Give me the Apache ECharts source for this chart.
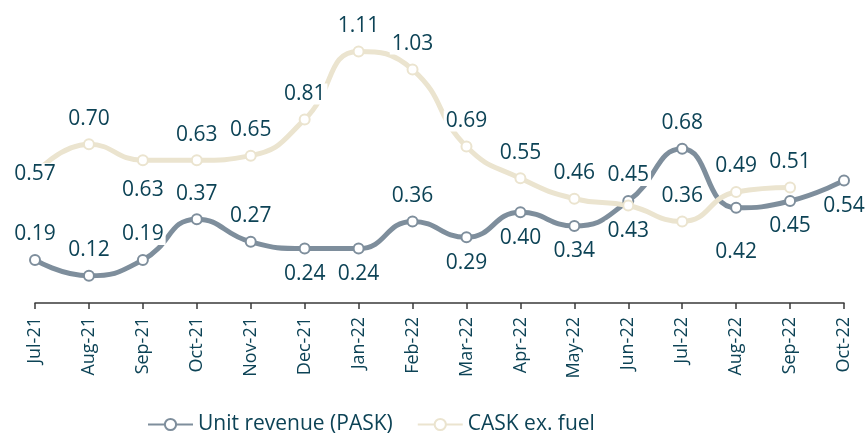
<!DOCTYPE html>
<html>
<head>
<meta charset="utf-8">
<title>PASK vs CASK ex. fuel</title>
<script src="https://cdn.jsdelivr.net/npm/echarts@6/dist/echarts.min.js"></script>
<style>
  html, body { margin: 0; padding: 0; background: #fff; }
  #main { width: 866px; height: 433px; }
</style>
</head>
<body>
<div id="main"></div>
<script>
// months on the x axis
const months = ['Jul-21', 'Aug-21', 'Sep-21', 'Oct-21', 'Nov-21', 'Dec-21', 'Jan-22', 'Feb-22',
  'Mar-22', 'Apr-22', 'May-22', 'Jun-22', 'Jul-22', 'Aug-22', 'Sep-22', 'Oct-22']

// Unit revenue (PASK)
const paskValues = [0.19, 0.12, 0.19, 0.37, 0.27, 0.24, 0.24, 0.36, 0.29, 0.40, 0.34, 0.45, 0.68, 0.42, 0.45, 0.54]
// CASK ex. fuel (no value for Oct-22)
const caskValues = [0.57, 0.70, 0.63, 0.63, 0.65, 0.81, 1.11, 1.03, 0.69, 0.55, 0.46, 0.43, 0.36, 0.49, 0.51, null]

// where each data label sits relative to its point
const paskLabelPos = ['top', 'top', 'top', 'top', 'top', 'bottom', 'bottom', 'top',
  'bottom', 'bottom', 'bottom', 'top', 'top', 'bottom', 'bottom', 'bottom']
const caskLabelPos = ['inside', 'top', 'bottom', 'top', 'top', 'top', 'top', 'top',
  'top', 'top', 'top', 'bottom', 'top', 'top', 'top', 'top']

const textColor = '#0d4356'
const fontFamily = '"Open Sans", sans-serif'

const chart = echarts.init(document.getElementById('main'))

function buildData(values, positions, extra) {
  return values.map((v, i) => {
    if (v === null) return '-'
    const dist = (extra && extra[i]) || 9
    return {
      value: v,
      label: { position: positions[i], distance: dist }
    }
  })
}

const labelStyle = {
  show: true,
  formatter: p => p.value.toFixed(2),
  color: textColor,
  fontSize: 21,
  fontFamily: fontFamily,
  backgroundColor: '#fff',
  padding: [0, 2]
}

chart.setOption({
  animation: false,
  grid: {
    left: 35,
    right: 22,
    top: 31,
    bottom: 130
  },
  legend: {
    left: 142,
    top: 409,
    itemWidth: 45,
    itemHeight: 14,
    itemGap: 24,
    textStyle: { color: textColor, fontSize: 21, fontFamily: fontFamily },
    data: ['Unit revenue (PASK)', 'CASK ex. fuel']
  },
  xAxis: {
    type: 'category',
    data: months,
    boundaryGap: false,
    axisLine: { lineStyle: { color: '#3a3a3a', width: 1.5 } },
    axisTick: { alignWithLabel: true, length: 6, lineStyle: { color: '#3a3a3a', width: 1.5 } },
    axisLabel: {
      rotate: 90,
      interval: 0,
      margin: 14,
      color: textColor,
      fontSize: 18,
      fontFamily: fontFamily
    }
  },
  yAxis: {
    type: 'value',
    min: 0,
    max: 1.2,
    show: false,
    splitLine: { show: false }
  },
  series: [
    {
      name: 'Unit revenue (PASK)',
      type: 'line',
      smooth: 0.5,
      symbol: 'circle',
      symbolSize: 10,
      lineStyle: { color: '#7e8e9c', width: 5 },
      itemStyle: { color: '#fff', borderColor: '#7e8e9c', borderWidth: 2 },
      label: labelStyle,
      data: buildData(paskValues, paskLabelPos, { 13: 28 })
    },
    {
      name: 'CASK ex. fuel',
      type: 'line',
      smooth: 0.5,
      symbol: 'circle',
      symbolSize: 10,
      connectNulls: false,
      lineStyle: { color: '#ebe4cf', width: 5 },
      itemStyle: { color: '#fff', borderColor: '#ebe4cf', borderWidth: 2 },
      label: labelStyle,
      data: buildData(caskValues, caskLabelPos, { 2: 13 })
    }
  ]
})
</script>
</body>
</html>
